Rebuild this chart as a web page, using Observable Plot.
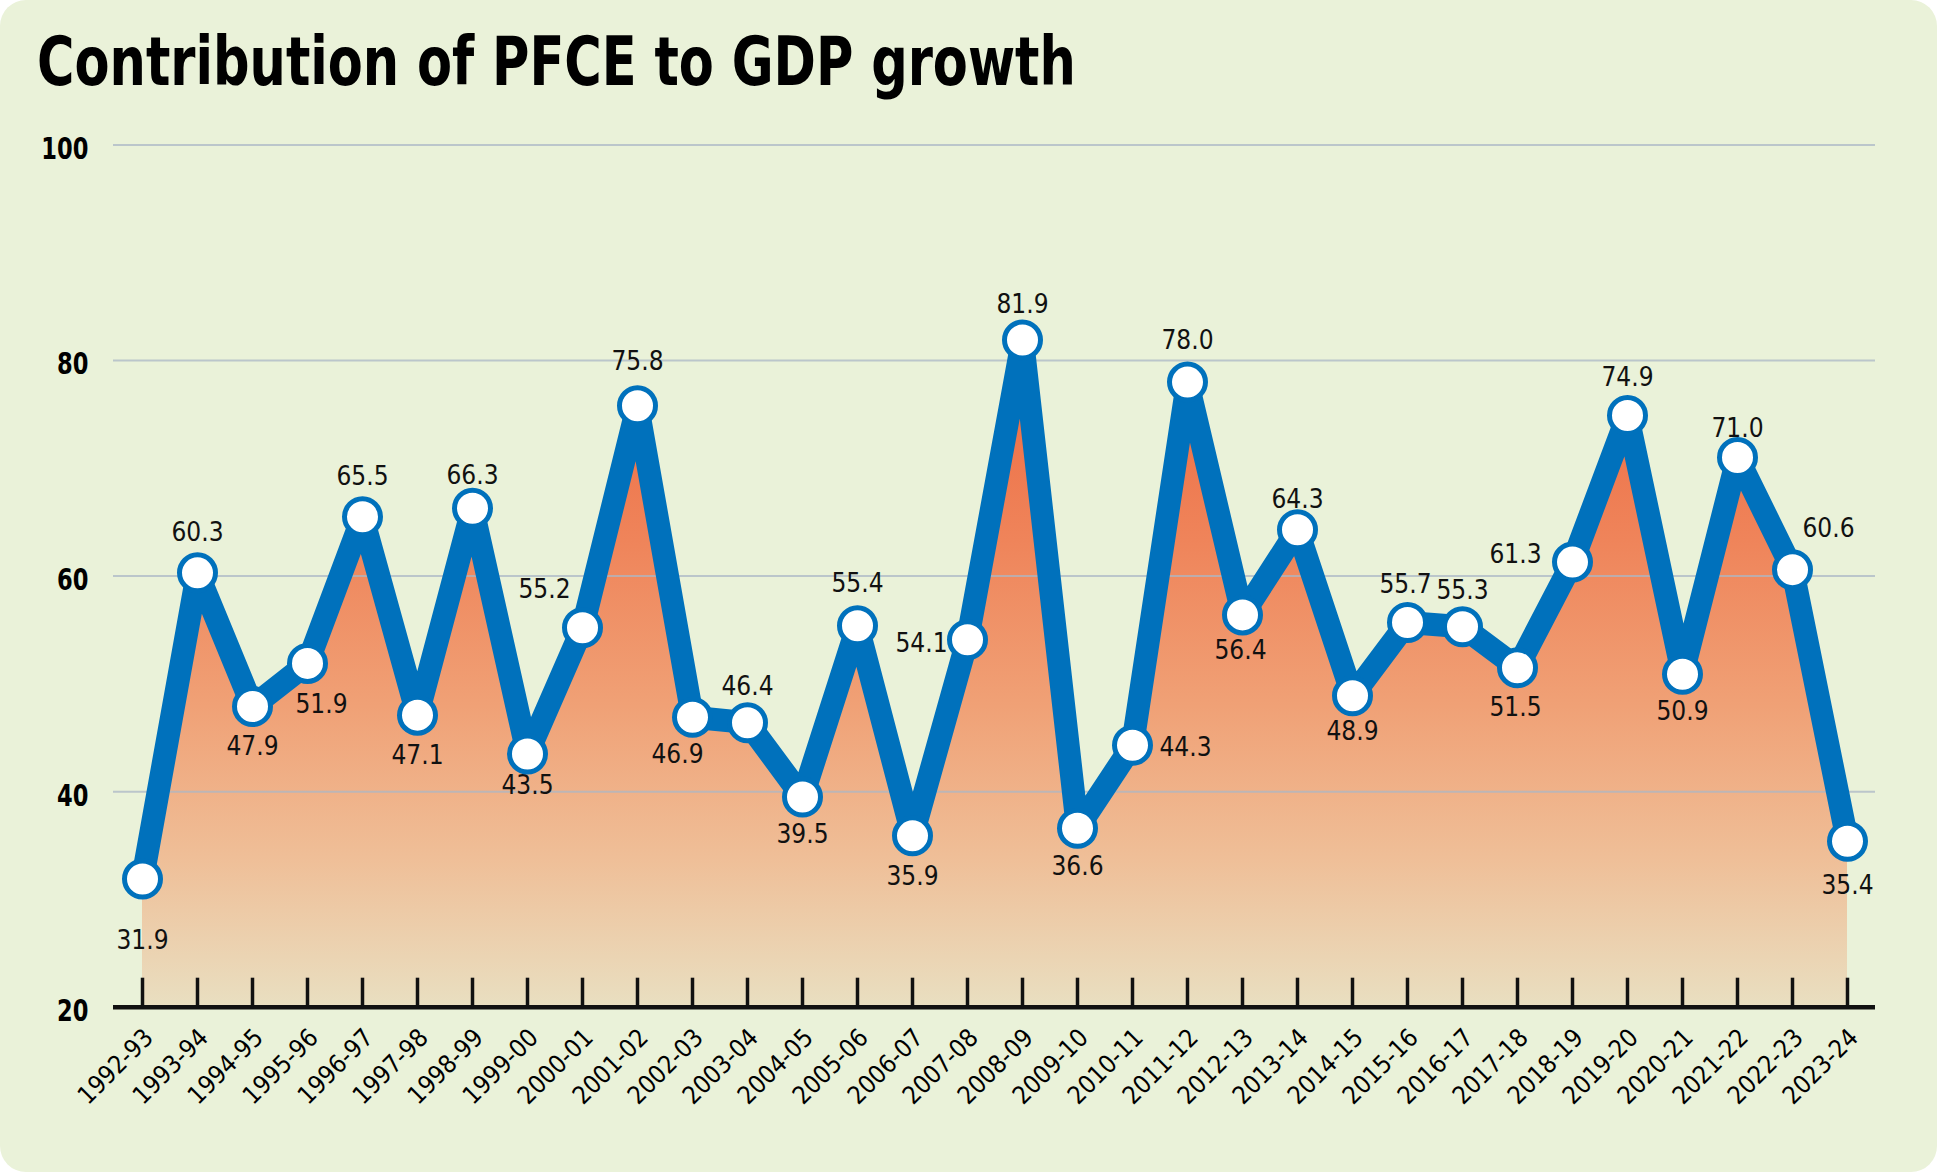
<!DOCTYPE html>
<html>
<head>
<meta charset="utf-8">
<script src="https://cdn.jsdelivr.net/npm/d3@7"></script>
<script src="https://cdn.jsdelivr.net/npm/@observablehq/plot@0.6"></script>
<style>
  html, body { margin: 0; padding: 0; background: #ffffff; }
  #card {
    position: relative; width: 1937px; height: 1172px;
    background: #EAF2D9; border-radius: 26px; overflow: hidden;
  }
  #title {
    position: absolute; left: 37px; top: 29px; margin: 0;
    font: bold 67px "DejaVu Sans Condensed", "DejaVu Sans", sans-serif;
    line-height: 1; color: #000; white-space: nowrap;
    transform: scaleX(0.847); transform-origin: 0 0;
  }
  #chart { position: absolute; left: 0; top: 110px; }
</style>
</head>
<body>
<div id="card">
  <h1 id="title">Contribution of PFCE to GDP growth</h1>
  <div id="chart"></div>
</div>
<script>
// Fiscal years and PFCE contribution to GDP growth (%)
const years = [
  "1992-93", "1993-94", "1994-95", "1995-96", "1996-97", "1997-98", "1998-99", "1999-00",
  "2000-01", "2001-02", "2002-03", "2003-04", "2004-05", "2005-06", "2006-07", "2007-08",
  "2008-09", "2009-10", "2010-11", "2011-12", "2012-13", "2013-14", "2014-15", "2015-16",
  "2016-17", "2017-18", "2018-19", "2019-20", "2020-21", "2021-22", "2022-23", "2023-24"
];
const values = [
  31.9, 60.3, 47.9, 51.9, 65.5, 47.1, 66.3, 43.5,
  55.2, 75.8, 46.9, 46.4, 39.5, 55.4, 35.9, 54.1,
  81.9, 36.6, 44.3, 78.0, 56.4, 64.3, 48.9, 55.7,
  55.3, 51.5, 61.3, 74.9, 50.9, 71.0, 60.6, 35.4
];
const yTicks = [20, 40, 60, 80, 100];

// Where each value label sits relative to its point, in pixels [dx, dy]
const labelNudge = [
  [0, 62], [0, -40], [0, 40], [14, 41], [0, -40], [0, 41], [0, -33], [0, 32],
  [-38, -38], [0, -44], [-15, 37], [0, -36], [0, 38], [0, -42], [0, 41], [-46, 4],
  [0, -35], [0, 38], [53, 2], [0, -41], [-2, 36], [0, -30], [0, 36], [-2, -38],
  [0, -36], [-2, 40], [-57, -7], [0, -38], [0, 37], [0, -29], [36, -41], [0, 44]
];

const rows = years.map((year, i) => ({year, value: values[i]}));
const baseline = yTicks[0];

const blue = "#0071BC";
const width = 1937, height = 1062;
const marginTop = 34.5, marginBottom = 165.3, marginLeft = 113, marginRight = 62;
const innerHeight = height - marginTop - marginBottom;

// Vertical orange-to-sand gradient under the line
const gradientDefs = () => {
  const defs = d3.create("svg:defs");
  const g = defs.append("linearGradient")
    .attr("id", "pfce-fill")
    .attr("x1", 0).attr("x2", 0).attr("y1", 0).attr("y2", 1);
  [
    [0, "#ED6840"],
    [0.3, "#EF845A"],
    [0.55, "#F0A176"],
    [0.78, "#EFBF98"],
    [1, "#E9DFC1"]
  ].forEach(([o, c]) => g.append("stop").attr("offset", o).attr("stop-color", c));
  return defs.node();
};

const chart = Plot.plot({
  width, height, marginTop, marginBottom, marginLeft, marginRight,
  style: {
    background: "transparent",
    fontFamily: '"DejaVu Sans Condensed", "DejaVu Sans", sans-serif'
  },
  x: {type: "point", domain: years, padding: 0.5, axis: null},
  y: {domain: [20, 100], label: null},
  marks: [
    gradientDefs,
    Plot.areaY(rows, {x: "year", y1: baseline, y2: "value", fill: "url(#pfce-fill)"}),
    Plot.ruleY(yTicks.slice(1), {stroke: "#ABB7C6", strokeOpacity: 0.75, strokeWidth: 2}),
    Plot.axisY({
      ticks: yTicks, tickSize: 0, tickPadding: 25, tickFormat: d => d,
      fontSize: 31, fontWeight: "bold", fill: "#000", dy: 4, label: null
    }),
    Plot.tickX(years, {x: d => d, stroke: "#111", strokeWidth: 3.5, insetTop: innerHeight - 29}),
    Plot.ruleY([baseline], {stroke: "#111", strokeWidth: 4.5}),
    Plot.text(years, {
      x: d => d, frameAnchor: "bottom", text: d => d,
      rotate: -45, textAnchor: "end", dx: 12, dy: 32,
      fontSize: 25, fill: "#000", ariaLabel: "year label"
    }),
    Plot.lineY(rows, {x: "year", y: "value", stroke: blue, strokeWidth: 23, strokeLinejoin: "round"}),
    ...rows.map((d, i) => Plot.text([d], {
      x: "year", y: "value", text: r => r.value.toFixed(1),
      dx: labelNudge[i][0], dy: labelNudge[i][1],
      fontSize: 26, fill: "#111", ariaLabel: "value label"
    })),
    Plot.dot(rows, {x: "year", y: "value", r: 18, fill: "white", stroke: blue, strokeWidth: 5})
  ]
});

document.getElementById("chart").appendChild(chart);

// Narrow the lettering: squeeze each text horizontally, keeping its anchor
function condense(selector, k) {
  chart.querySelectorAll(selector).forEach(t => {
    const len = t.getComputedTextLength();
    t.setAttribute("textLength", (len * k).toFixed(2));
    t.setAttribute("lengthAdjust", "spacingAndGlyphs");
  });
}
condense('g[aria-label="y-axis tick label"] text', 0.81);
condense('g[aria-label="value label"] text', 0.9);
condense('g[aria-label="year label"] text', 0.9);
</script>
</body>
</html>
